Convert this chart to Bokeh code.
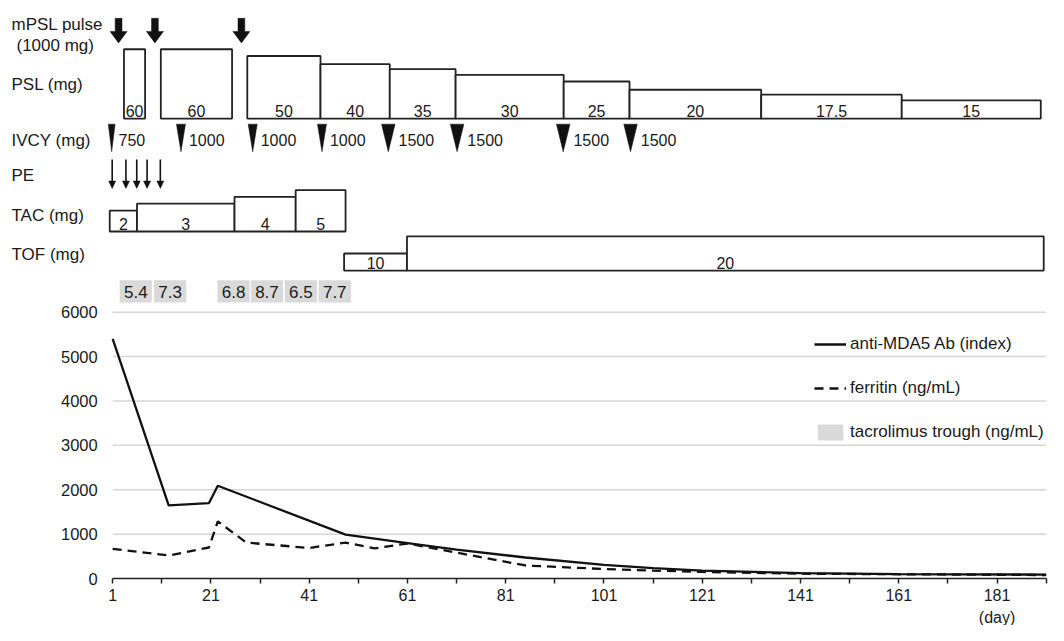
import math
from bokeh.plotting import figure
from bokeh.models import Range1d, FixedTicker, Legend, LegendItem
from bokeh.core.properties import value
from bokeh.embed import file_html
from bokeh.resources import INLINE

# ---------------- data ----------------
mpsl_pulse_day = [2.2, 9.6, 27.2]

psl_start = [3.3, 10.8, 28.4, 43.3, 57.4, 70.8, 92.8, 106.2, 133.0, 161.6]
psl_end = [7.6, 25.3, 43.3, 57.4, 70.8, 92.8, 106.2, 133.0, 161.6, 189.9]
psl_dose = [60, 60, 50, 40, 35, 30, 25, 20, 17.5, 15]
psl_label = ["60", "60", "50", "40", "35", "30", "25", "20", "17.5", "15"]

ivcy_day = [0.8, 14.9, 29.5, 43.6, 57.1, 71.1, 92.7, 106.4]
ivcy_dose = [750, 1000, 1000, 1000, 1500, 1500, 1500, 1500]

pe_day = [0.9, 3.7, 5.9, 8.0, 10.7]

tac_start = [0.4, 5.95, 25.8, 38.25]
tac_end = [5.95, 25.8, 38.25, 48.4]
tac_dose = [2, 3, 4, 5]

tof_start = [48.1, 60.9]
tof_end = [60.9, 190.5]
tof_dose = [10, 20]

trough_day = [5.7, 12.7, 25.6, 32.4, 39.3, 46.2]
trough_value = [5.4, 7.3, 6.8, 8.7, 6.5, 7.7]

mda5_day = [1, 12.4, 20.6, 22.4, 48.4, 61, 71, 85, 101, 111, 121, 141, 161, 191]
mda5_index = [5400, 1650, 1700, 2090, 990, 800, 650, 475, 310, 235, 180, 125, 100, 90]

ferritin_day = [1, 12.4, 20.6, 22.4, 28.2, 41, 48.4, 54.3, 61, 85, 101, 111, 121, 141, 191]
ferritin_value = [670, 520, 700, 1290, 810, 690, 810, 680, 790, 295, 215, 180, 150, 110, 80]

x_major_ticks = [1, 21, 41, 61, 81, 101, 121, 141, 161, 181]
x_minor_ticks = [11, 31, 51, 71, 91, 111, 131, 151, 171, 191]
y_ticks = [0, 1000, 2000, 3000, 4000, 5000, 6000]

row_labels = ["mPSL pulse", "(1000 mg)", "PSL (mg)", "IVCY (mg)", "PE", "TAC (mg)", "TOF (mg)"]

# ---------------- layout constants ----------------
W, H = 1048, 625
SX, SY = 0.984, 0.976          # overall fit of the layout into the canvas
PXDAY = 4.993 * SX             # pixels per day
X_DAY1 = 114 * SX              # pixel of day 1
XS = 1 - X_DAY1 / PXDAY
XE = XS + W / PXDAY
AXIS_Y = 592.3 * SY            # px from top where value 0 sits
TOP6000 = 319.3 * SY
PXVAL = (AXIS_Y - TOP6000) / 6000.0
YS = -(H - AXIS_Y) / PXVAL
YE = AXIS_Y / PXVAL

FONT = value("Liberation Sans")
TXT = "#1a1a1a"
EDGE = "#222222"
INK = "#111111"

p = figure(width=W, height=H, x_range=Range1d(XS, XE), y_range=Range1d(YS, YE),
           output_backend="svg", toolbar_location=None, title=None,
           min_border=0, min_border_left=0, min_border_right=0,
           min_border_top=0, min_border_bottom=0)
p.outline_line_color = None
# timeline rows: vertical layout units measured from the top
p.extra_y_ranges = {"tl": Range1d(H / SY, 0)}
p.xgrid.visible = False
p.ygrid.visible = False

# ---- axes ----
xa = p.xaxis[0]
xa.fixed_location = 0
xa.bounds = (x_major_ticks[0], x_minor_ticks[-1])
xa.ticker = FixedTicker(ticks=x_major_ticks, minor_ticks=x_minor_ticks)
xa.axis_line_color = EDGE
xa.axis_line_width = 1.5
xa.major_tick_in = 0
xa.major_tick_out = 5
xa.minor_tick_in = 0
xa.minor_tick_out = 5
xa.major_tick_line_color = EDGE
xa.minor_tick_line_color = EDGE
xa.major_tick_line_width = 1.5
xa.minor_tick_line_width = 1.5
xa.major_label_text_font = "Liberation Sans"
xa.major_label_text_font_size = "16px"
xa.major_label_text_color = TXT
xa.major_label_standoff = 5

ya = p.yaxis[0]
ya.fixed_location = 1
ya.bounds = (0, 6000)
ya.ticker = FixedTicker(ticks=y_ticks, minor_ticks=[])
ya.axis_line_color = None
ya.major_tick_line_color = None
ya.minor_tick_line_color = None
ya.major_tick_in = 0
ya.major_tick_out = 0
ya.major_label_text_font = "Liberation Sans"
ya.major_label_text_font_size = "16.5px"
ya.major_label_text_color = TXT
ya.major_label_standoff = 15

# ---- gridlines ----
n = len(y_ticks) - 1
p.segment(x0=[x_major_ticks[0]] * n, x1=[x_minor_ticks[-1]] * n,
          y0=y_ticks[1:], y1=y_ticks[1:], line_color="#d6d6d6", line_width=1.5)

# ---- lines ----
r_mda5 = p.line(mda5_day, mda5_index, line_color=INK, line_width=2.3)
r_fer = p.line(ferritin_day, ferritin_value, line_color=INK, line_width=2.3,
               line_dash="9 6")

p.text(x=[x_major_ticks[-1]], y=[-38.5 / PXVAL], text=["(day)"], text_align="center",
       text_baseline="middle", text_font=FONT, text_font_size="16px", text_color=TXT)

# ---- row labels ----
lab_y = [25, 46, 86.5, 143, 179, 220, 260]
lab_dx = [11, 16, 11, 11, 11, 11, 11]
p.text(x=[XS] * len(row_labels), y=lab_y, text=row_labels, x_offset=lab_dx,
       y_range_name="tl", text_align="left", text_baseline="middle",
       text_font=FONT, text_font_size="17px", text_color=TXT)

# ---- mPSL pulse arrows ----
def arrow_poly(c, top, base, tip, sw, hw):
    xs = [c - sw / PXDAY, c + sw / PXDAY, c + sw / PXDAY, c + hw / PXDAY, c,
          c - hw / PXDAY, c - sw / PXDAY]
    ys = [top, top, base, base, tip, base, base]
    return xs, ys

mx, my = [], []
for d in mpsl_pulse_day:
    a, b = arrow_poly(d, 18.3, 31.7, 43.5, 3.4, 8.5)
    mx.append(a)
    my.append(b)
p.patches(mx, my, y_range_name="tl", fill_color=INK, line_color=INK, line_width=0.5)

# ---- PSL boxes ----
PSL_BASE = 121
psl_h = [37.75 * math.log(d / 9.14) for d in psl_dose]
p.quad(left=psl_start, right=psl_end, top=[PSL_BASE - h for h in psl_h],
       bottom=[PSL_BASE] * len(psl_dose), y_range_name="tl",
       fill_color="white", line_color=EDGE, line_width=1.8)
p.text(x=[(a + b) / 2 for a, b in zip(psl_start, psl_end)], y=[113.3] * len(psl_dose),
       text=psl_label, y_range_name="tl", text_align="center", text_baseline="middle",
       text_font=FONT, text_font_size="16px", text_color=TXT)

# ---- IVCY triangles ----
tx, ty, lx = [], [], []
for d, dose in zip(ivcy_day, ivcy_dose):
    hw = dose * 0.0045
    tx.append([d - hw / PXDAY, d + hw / PXDAY, d])
    ty.append([126.7, 126.7, 155.0])
    lx.append(d + (hw + 3.5) / PXDAY)
p.patches(tx, ty, y_range_name="tl", fill_color=INK, line_color=INK, line_width=0.5)
p.text(x=lx, y=[143.3] * len(ivcy_dose), text=[str(v) for v in ivcy_dose],
       y_range_name="tl", text_align="left", text_baseline="middle",
       text_font=FONT, text_font_size="16px", text_color=TXT)

# ---- PE arrows ----
p.segment(x0=pe_day, x1=pe_day, y0=[163] * len(pe_day), y1=[187] * len(pe_day),
          y_range_name="tl", line_color=INK, line_width=1.6)
p.patches([[d - 3.5 / PXDAY, d + 3.5 / PXDAY, d] for d in pe_day],
          [[185, 185, 192.5] for _ in pe_day], y_range_name="tl",
          fill_color=INK, line_color=INK, line_width=0.5)

# ---- TAC boxes ----
TAC_BASE = 236.7
tac_h = [7.0 * d + 7.5 for d in tac_dose]
p.quad(left=tac_start, right=tac_end, top=[TAC_BASE - h for h in tac_h],
       bottom=[TAC_BASE] * len(tac_dose), y_range_name="tl",
       fill_color="white", line_color=EDGE, line_width=1.8)
p.text(x=[(a + b) / 2 for a, b in zip(tac_start, tac_end)], y=[229] * len(tac_dose),
       text=[str(v) for v in tac_dose], y_range_name="tl", text_align="center",
       text_baseline="middle", text_font=FONT, text_font_size="16px", text_color=TXT)

# ---- TOF boxes ----
TOF_BASE = 276.7
tof_h = [1.75 * d for d in tof_dose]
p.quad(left=tof_start, right=tof_end, top=[TOF_BASE - h for h in tof_h],
       bottom=[TOF_BASE] * len(tof_dose), y_range_name="tl",
       fill_color="white", line_color=EDGE, line_width=1.8)
p.text(x=[(a + b) / 2 for a, b in zip(tof_start, tof_end)], y=[269] * len(tof_dose),
       text=[str(v) for v in tof_dose], y_range_name="tl", text_align="center",
       text_baseline="middle", text_font=FONT, text_font_size="16px", text_color=TXT)

# ---- tacrolimus trough boxes ----
TW = 6.55
r_tr = p.quad(left=[d - TW / 2 for d in trough_day], right=[d + TW / 2 for d in trough_day],
              top=[286.7] * len(trough_day), bottom=[309.3] * len(trough_day),
              y_range_name="tl", fill_color="#d9d9d9", line_color=None)
p.text(x=trough_day, y=[298.3] * len(trough_day), text=[str(v) for v in trough_value],
       y_range_name="tl", text_align="center", text_baseline="middle",
       text_font=FONT, text_font_size="17px", text_color=TXT)

# ---- legend ----
legend = Legend(items=[LegendItem(label="anti-MDA5 Ab (index)", renderers=[r_mda5]),
                       LegendItem(label="ferritin (ng/mL)", renderers=[r_fer]),
                       LegendItem(label="tacrolimus trough (ng/mL)", renderers=[r_tr])],
                location=(814, 183), glyph_width=32, glyph_height=20, label_height=20,
                label_standoff=4, spacing=24, padding=0, margin=0,
                border_line_color=None, background_fill_alpha=0,
                label_text_font="Liberation Sans", label_text_font_size="17px",
                label_text_color=TXT)
p.add_layout(legend)

open("out.html", "w").write(file_html(p, INLINE))
